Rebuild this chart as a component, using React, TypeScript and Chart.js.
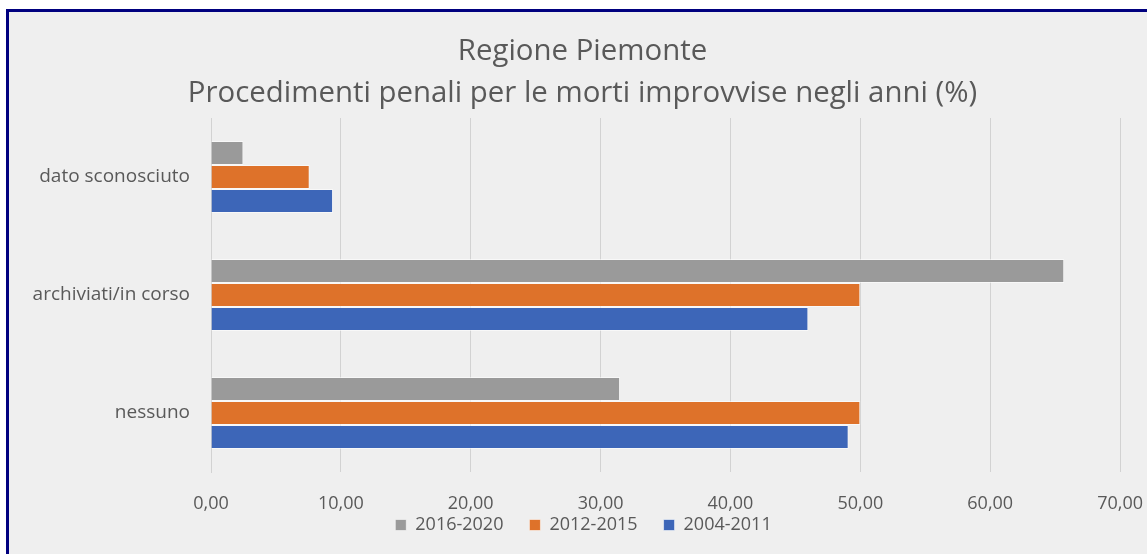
import React, { useEffect, useRef } from "react";
import { Chart, registerables } from "chart.js";

Chart.register(...registerables);

const categories = ["dato sconosciuto", "archiviati/in corso", "nessuno"];
const seriesLabels = ["2016-2020", "2012-2015", "2004-2011"];
const values2016_2020 = [2.5, 65.7, 31.5];
const values2012_2015 = [7.6, 50.0, 50.0];
const values2004_2011 = [9.4, 46.0, 49.1];
const seriesColors = ["#9a9a9a", "#de722a", "#3d66b8"];
const titleLines = [
  "Regione Piemonte",
  "Procedimenti penali per le morti improvvise negli anni (%)",
];

const FONT = "'Open Sans', 'Noto Sans', sans-serif";
const TEXT = "#595959";

// shifts title/legend boxes to match the original chart-area centring
const shiftPlugin = {
  id: "shiftBlocks",
  afterLayout(chart: any) {
    const t = chart.titleBlock;
    if (t) {
      t.left += 14.5;
      t.right += 14.5;
    }
    const l = chart.legend;
    if (l) {
      l.left += 15.5;
      l.right += 15.5;
      l.top -= 46;
      l.bottom -= 46;
    }
  },
};

export default function App() {
  const ref = useRef<HTMLCanvasElement | null>(null);

  useEffect(() => {
    if (!ref.current) return;
    const seriesValues = [values2016_2020, values2012_2015, values2004_2011];
    const chart = new Chart(ref.current, {
      type: "bar",
      data: {
        labels: categories,
        datasets: seriesLabels.map((label, i) => ({
          label,
          data: seriesValues[i],
          backgroundColor: seriesColors[i],
          borderColor: "rgba(255,255,255,0.55)",
          borderWidth: 1,
          categoryPercentage: 0.61,
          barPercentage: 1.0,
        })),
      },
      plugins: [shiftPlugin],
      options: {
        indexAxis: "y",
        animation: false,
        responsive: false,
        maintainAspectRatio: false,
        layout: { padding: { left: 0, right: 39, top: 0, bottom: 0 } },
        scales: {
          x: {
            min: 0,
            max: 70,
            grid: { color: "#d2d2d2", lineWidth: 1, drawTicks: false },
            border: { display: false },
            ticks: {
              stepSize: 10,
              color: TEXT,
              font: { family: FONT, size: 18, lineHeight: 1 },
              padding: 23,
              maxRotation: 0,
              callback: (v: any) => Number(v).toFixed(2).replace(".", ","),
            },
          },
          y: {
            grid: { display: false },
            border: { display: true, color: "#d2d2d2" },
            ticks: {
              color: TEXT,
              font: { family: FONT, size: 19 },
              padding: 13,
            },
            afterFit: (scale: any) => {
              scale.width = 202;
            },
          },
        },
        plugins: {
          title: {
            display: true,
            text: titleLines,
            color: TEXT,
            font: { family: FONT, size: 29.4, weight: "normal", lineHeight: 42 / 29.4 },
            padding: { top: 19, bottom: 3 },
          },
          legend: {
            display: true,
            position: "bottom",
            labels: {
              boxWidth: 11,
              boxHeight: 11,
              color: TEXT,
              font: { family: FONT, size: 18 },
              padding: 26,
            },
          },
          tooltip: { enabled: false },
        },
      },
    });
    return () => chart.destroy();
  }, []);

  return (
    <div
      style={{
        position: "fixed",
        left: 6,
        top: 9,
        width: 1141,
        height: 545,
        overflow: "hidden",
        background: "#efefef",
        borderTop: "3px solid #00007f",
        borderLeft: "3px solid #00007f",
        boxSizing: "border-box",
      }}
    >
      <canvas ref={ref} width={1157} height={578} style={{ display: "block" }} />
    </div>
  );
}
